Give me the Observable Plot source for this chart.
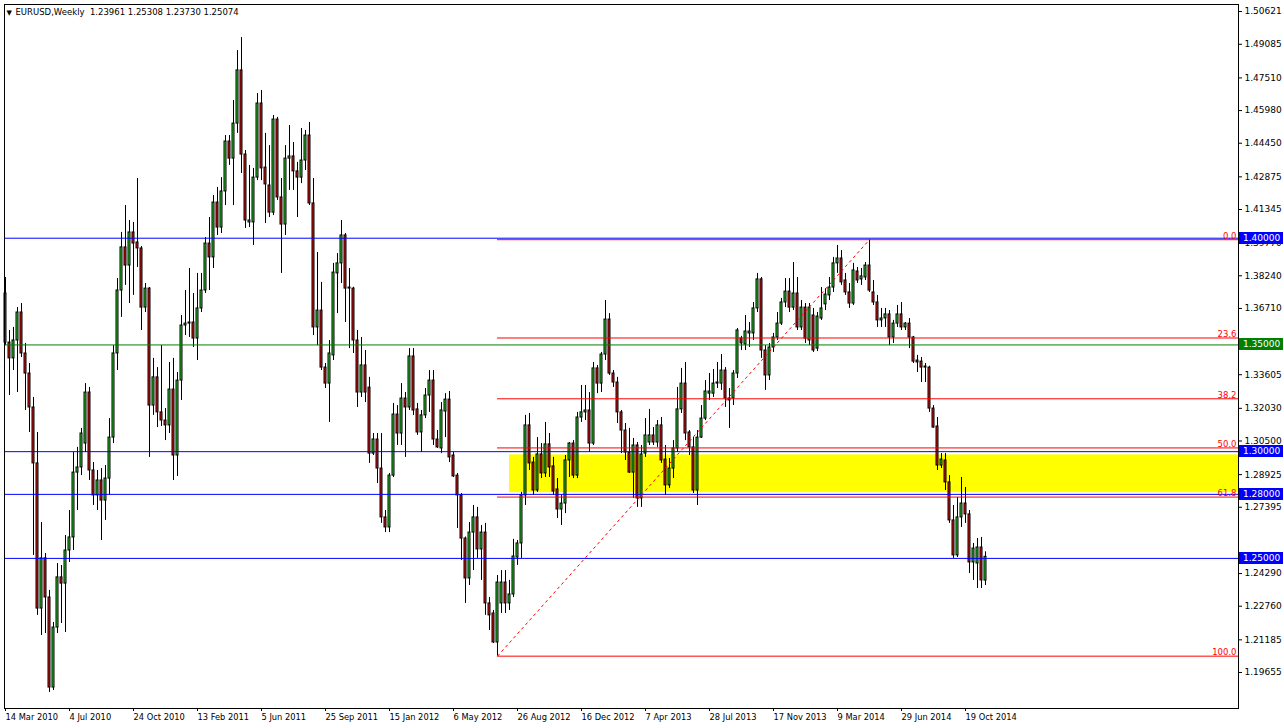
<!DOCTYPE html>
<html><head><meta charset="utf-8">
<script src="https://cdn.jsdelivr.net/npm/d3@7"></script>
<script src="https://cdn.jsdelivr.net/npm/@observablehq/plot@0.6"></script>
<style>
html,body{margin:0;padding:0;background:#fff;}
#chart svg{display:block;}
</style></head><body><div id="chart"></div>
<script>
// ---------- data ----------
const symbol = "EURUSD,Weekly";
const firstWeek = "2010-03-14";
const open = [1.3741,1.3511,1.3437,1.3521,1.3652,1.3460,1.3366,1.3207,1.2945,1.2265,1.2500,1.2317,1.1895,1.2176,1.2411,1.2382,1.2537,1.2598,1.2902,1.2926,
1.3038,1.3277,1.2912,1.2795,1.2865,1.2771,1.2874,1.3066,1.3460,1.3755,1.3957,1.3872,1.4027,1.3980,1.3952,1.3675,1.3764,1.3216,1.3348,1.3184,
1.3146,1.3123,1.3291,1.2982,1.3333,1.3591,1.3605,1.3605,1.3530,1.3671,1.3755,1.3975,1.3910,1.4167,1.4050,1.4219,1.4453,1.4373,1.4537,1.4786,
1.4392,1.4074,1.4074,1.4284,1.4631,1.4331,1.4247,1.4120,1.4556,1.4191,1.4064,1.4373,1.4383,1.4313,1.4284,1.4364,1.4481,1.4163,1.3582,1.3661,
1.3394,1.3319,1.3451,1.3835,1.3882,1.4013,1.3769,1.3764,1.3521,1.3277,1.3404,1.3300,1.2991,1.3057,1.2921,1.2692,1.2645,1.2888,1.3174,1.3085,
1.3249,1.3207,1.3446,1.3198,1.3090,1.3170,1.3263,1.3333,1.3057,1.3015,1.3188,1.3244,1.2982,1.2888,1.2795,1.2593,1.2406,1.2621,1.2692,1.2542,
1.2621,1.2289,1.2242,1.2106,1.2289,1.2387,1.2289,1.2331,1.2504,1.2570,1.2795,1.3123,1.2949,1.2818,1.2987,1.2898,1.3034,1.2931,1.2823,1.2729,
1.2757,1.2959,1.3038,1.2888,1.3160,1.3184,1.3193,1.3038,1.3390,1.3319,1.3455,1.3619,1.3366,1.3324,1.3184,1.3099,1.2996,1.2902,1.3029,1.2781,
1.2991,1.3043,1.3076,1.3043,1.3123,1.2963,1.2842,1.2921,1.3015,1.3198,1.3319,1.3090,1.3020,1.2818,1.3066,1.3155,1.3272,1.3272,1.3324,1.3319,
1.3380,1.3240,1.3249,1.3366,1.3530,1.3502,1.3554,1.3554,1.3671,1.3807,1.3474,1.3357,1.3488,1.3535,1.3600,1.3699,1.3750,1.3675,1.3741,1.3582,
1.3675,1.3521,1.3638,1.3483,1.3624,1.3690,1.3732,1.3769,1.3882,1.3905,1.3802,1.3746,1.3694,1.3844,1.3807,1.3816,1.3872,1.3746,1.3699,1.3615,
1.3624,1.3643,1.3535,1.3600,1.3643,1.3582,1.3600,1.3535,1.3427,1.3422,1.3399,1.3394,1.3202,1.3118,1.2935,1.2959,1.2856,1.2678,1.2514,1.2692,
1.2757,1.2706,1.2481,1.2476,1.2551,1.23961];
const high = [1.3816,1.3568,1.3582,1.3675,1.3694,1.3507,1.3413,1.3254,1.3090,1.2668,1.2523,1.2350,1.2200,1.2476,1.2467,1.2607,1.2724,1.2996,1.3020,1.3109,
1.3319,1.3301,1.2949,1.2912,1.2921,1.2935,1.3155,1.3497,1.3811,1.4027,1.4153,1.4083,1.4074,1.4280,1.3961,1.3788,1.3769,1.3437,1.3394,1.3497,
1.3202,1.3418,1.3437,1.3371,1.3638,1.3755,1.3858,1.3741,1.3835,1.3835,1.4003,1.4097,1.4200,1.4238,1.4284,1.4481,1.4481,1.4645,1.4879,1.4940,
1.4411,1.4341,1.4327,1.4678,1.4692,1.4491,1.4434,1.4575,1.4566,1.4280,1.4434,1.4528,1.4448,1.4355,1.4514,1.4505,1.4542,1.4280,1.3933,1.3793,
1.3413,1.3521,1.3882,1.3928,1.4083,1.4022,1.3858,1.3770,1.3568,1.3535,1.3474,1.3348,1.3085,1.3085,1.3085,1.2724,1.2898,1.3226,1.3216,1.3319,
1.3277,1.3483,1.3483,1.3226,1.3193,1.3296,1.3380,1.3380,1.3099,1.3230,1.3272,1.3282,1.2996,1.2898,1.2804,1.2600,1.2668,1.2748,1.2739,1.2654,
1.2664,1.2317,1.2256,1.2420,1.2443,1.2443,1.2397,1.2589,1.2584,1.2809,1.3170,1.3179,1.2973,1.3066,1.3038,1.3137,1.3085,1.2973,1.2874,1.2795,
1.2982,1.3043,1.3052,1.3184,1.3310,1.3310,1.3277,1.3418,1.3404,1.3465,1.3708,1.3647,1.3380,1.3348,1.3193,1.3132,1.3109,1.3062,1.3043,1.3029,
1.3155,1.3198,1.3113,1.3146,1.3160,1.3029,1.2968,1.3052,1.3301,1.3390,1.3418,1.3099,1.3066,1.3099,1.3216,1.3333,1.3366,1.3385,1.3418,1.3455,
1.3394,1.3296,1.3380,1.3577,1.3540,1.3638,1.3605,1.3699,1.3835,1.3816,1.3497,1.3507,1.3554,1.3652,1.3718,1.3811,1.3811,1.3886,1.3816,1.3708,
1.3694,1.3694,1.3671,1.3652,1.3769,1.3764,1.3816,1.3910,1.3966,1.3942,1.3835,1.3788,1.3882,1.3863,1.3858,1.3886,1.3993,1.3802,1.3732,1.3671,
1.3671,1.3661,1.3615,1.3685,1.3699,1.3605,1.3624,1.3540,1.3451,1.3441,1.3413,1.3400,1.3216,1.3160,1.2991,1.2991,1.2888,1.2748,1.2785,1.2879,
1.2832,1.2724,1.2570,1.2593,1.2598,1.25308];
const low = [1.3497,1.3263,1.3380,1.3277,1.3441,1.3193,1.3090,1.2514,1.2233,1.2139,1.2148,1.1872,1.1881,1.2148,1.2195,1.2153,1.2481,1.2537,1.2724,1.2888,
1.2996,1.2865,1.2748,1.2724,1.2584,1.2678,1.2795,1.3038,1.3380,1.3629,1.3779,1.3694,1.3732,1.3863,1.3568,1.3652,1.2973,1.3170,1.3113,1.3118,
1.3052,1.3085,1.2865,1.2884,1.3240,1.3544,1.3535,1.3488,1.3427,1.3652,1.3741,1.3755,1.3858,1.4013,1.4022,1.4153,1.4341,1.4153,1.4491,1.4303,
1.4046,1.4050,1.3966,1.4270,1.4270,1.4069,1.4097,1.4106,1.4177,1.3835,1.4013,1.4224,1.4224,1.4097,1.4256,1.4317,1.4153,1.3544,1.3497,1.3380,
1.3296,1.3137,1.3427,1.3647,1.3788,1.3605,1.3483,1.3460,1.3207,1.3254,1.3230,1.2945,1.2982,1.2851,1.2664,1.2621,1.2621,1.2879,1.3029,1.3029,
1.2973,1.3193,1.3170,1.3076,1.2996,1.3155,1.3184,1.3029,1.3015,1.2991,1.3066,1.2949,1.2879,1.2640,1.2490,1.2289,1.2373,1.2443,1.2500,1.2397,
1.2233,1.2162,1.2101,1.2042,1.2242,1.2242,1.2256,1.2317,1.2467,1.2500,1.2748,1.2912,1.2795,1.2809,1.2874,1.2879,1.2879,1.2795,1.2687,1.2654,
1.2710,1.2879,1.2874,1.2874,1.3137,1.3146,1.2996,1.3029,1.3272,1.3277,1.3427,1.3357,1.3301,1.3132,1.2991,1.2959,1.2898,1.2781,1.2739,1.2739,
1.2973,1.3029,1.3029,1.3020,1.2945,1.2795,1.2828,1.2874,1.2996,1.3179,1.3052,1.2982,1.2804,1.2748,1.3062,1.3146,1.3240,1.3254,1.3296,1.3287,
1.3207,1.3109,1.3216,1.3343,1.3474,1.3474,1.3488,1.3521,1.3652,1.3437,1.3287,1.3333,1.3465,1.3521,1.3591,1.3675,1.3652,1.3661,1.3568,1.3568,
1.3507,1.3497,1.3465,1.3469,1.3615,1.3661,1.3708,1.3746,1.3835,1.3779,1.3732,1.3671,1.3685,1.3788,1.3779,1.3802,1.3746,1.3685,1.3582,1.3582,
1.3582,1.3497,1.3507,1.3582,1.3568,1.3568,1.3483,1.3413,1.3371,1.3324,1.3324,1.3184,1.3110,1.2912,1.2921,1.2818,1.2664,1.2500,1.2504,1.2645,
1.2664,1.2429,1.2397,1.2359,1.2359,1.23730];
const close = [1.3511,1.3437,1.3521,1.3652,1.3460,1.3366,1.3207,1.2945,1.2265,1.2500,1.2317,1.1895,1.2176,1.2411,1.2382,1.2537,1.2598,1.2902,1.2926,1.3085,
1.3277,1.2912,1.2795,1.2865,1.2771,1.2874,1.3066,1.3460,1.3755,1.3957,1.3872,1.4027,1.3975,1.3952,1.3675,1.3764,1.3216,1.3348,1.3184,1.3146,
1.3123,1.3291,1.2982,1.3333,1.3591,1.3600,1.3600,1.3530,1.3671,1.3755,1.3975,1.3910,1.4167,1.4050,1.4219,1.4453,1.4373,1.4537,1.4786,1.4392,
1.4083,1.4083,1.4284,1.4631,1.4327,1.4252,1.4120,1.4556,1.4191,1.4064,1.4373,1.4383,1.4313,1.4284,1.4364,1.4481,1.4163,1.3582,1.3661,1.3394,
1.3319,1.3460,1.3839,1.3882,1.4013,1.3764,1.3764,1.3521,1.3277,1.3404,1.3277,1.2991,1.3057,1.2921,1.2692,1.2645,1.2888,1.3174,1.3085,1.3249,
1.3207,1.3446,1.3193,1.3090,1.3170,1.3263,1.3333,1.3057,1.3020,1.3193,1.3244,1.2973,1.2884,1.2795,1.2593,1.2406,1.2621,1.2692,1.2542,1.2621,
1.2289,1.2233,1.2106,1.2387,1.2387,1.2289,1.2331,1.2509,1.2570,1.2795,1.3123,1.2945,1.2818,1.2987,1.2898,1.3034,1.2926,1.2813,1.2729,1.2757,
1.2959,1.3038,1.2888,1.3160,1.3184,1.3193,1.3038,1.3390,1.3319,1.3455,1.3619,1.3366,1.3324,1.3184,1.3099,1.2996,1.2902,1.3029,1.2781,1.2987,
1.3076,1.3076,1.3043,1.3123,1.2959,1.2842,1.2921,1.3015,1.3198,1.3319,1.3085,1.3020,1.2818,1.3066,1.3155,1.3282,1.3282,1.3319,1.3319,1.3380,
1.3249,1.3249,1.3366,1.3568,1.3507,1.3563,1.3563,1.3671,1.3807,1.3474,1.3357,1.3488,1.3535,1.3600,1.3699,1.3750,1.3675,1.3741,1.3582,1.3675,
1.3530,1.3675,1.3474,1.3633,1.3671,1.3736,1.3769,1.3882,1.3905,1.3793,1.3746,1.3694,1.3849,1.3802,1.3821,1.3872,1.3755,1.3699,1.3615,1.3624,
1.3643,1.3535,1.3600,1.3643,1.3582,1.3600,1.3535,1.3422,1.3418,1.3394,1.3394,1.3202,1.3113,1.2935,1.2963,1.2856,1.2678,1.2514,1.2692,1.2757,
1.2706,1.2481,1.2546,1.2551,1.2397,1.25074];

const priceTicks = [1.50621,1.49085,1.47510,1.45980,1.44450,1.42875,1.41345,1.39770,1.38240,1.36710,1.33605,1.32030,1.30500,1.28925,1.27395,1.24290,1.22760,1.21185,1.19655];
const dateTicks = ["2010-03-14","2010-07-04","2010-10-24","2011-02-13","2011-06-05","2011-09-25","2012-01-15","2012-05-06","2012-08-26","2012-12-16","2013-04-07","2013-07-28","2013-11-17","2014-03-09","2014-06-29","2014-10-19"];

const blueLevels = [1.40, 1.30, 1.28, 1.25];
const greenLevels = [1.35];
const fibRatios = [0, 23.6, 38.2, 50.0, 61.8, 100.0];
const fibHighPrice = 1.3993, fibHighWeek = "2014-05-04";
const fibLowPrice = 1.2042, fibLowWeek = "2012-07-22";
const zoneTopPrice = 1.2985, zoneBottomPrice = 1.2808, zoneStartWeek = "2012-08-12";

// ---------- build ----------
const BULL = "#22dd22", BEAR = "#ee1111", BLUE = "#0000ff", GREEN = "#008000", RED = "#ff0000";
const parse = s => new Date(s + "T00:00:00Z");
const t0 = parse(firstWeek);
const candles = open.map((o, i) => ({
  date: d3.utcDay.offset(t0, 7 * i), open: o, high: high[i], low: low[i], close: close[i]
}));
const PX_HOURS = 42; // one pixel at 4 px per weekly bar
const xStart = d3.utcHour.offset(t0, -PX_HOURS);
const xEnd = d3.utcHour.offset(xStart, 1234 * PX_HOURS);
const fibs = fibRatios.map(r => ({r, price: fibHighPrice - (fibHighPrice - fibLowPrice) * r / 100}));
const dojis = candles.filter(d => Math.abs(d.close - d.open) < 0.0004);
const last = candles[candles.length - 1];
const header = `${symbol}  ${last.open.toFixed(5)} ${last.high.toFixed(5)} ${last.low.toFixed(5)} ${last.close.toFixed(5)}`;
const FONT = "DejaVu Sans, Liberation Sans, sans-serif";

const chart = Plot.plot({
  width: 1284, height: 728,
  marginLeft: 4, marginRight: 46, marginTop: 4, marginBottom: 20,
  style: {fontFamily: FONT, fontSize: "9px", background: "#fff", color: "#000", overflow: "visible"},
  x: {type: "utc", domain: [xStart, xEnd], axis: null},
  y: {domain: [1.17968, 1.50949], axis: null},
  marks: [
    Plot.rect([{}], {x1: parse(zoneStartWeek), x2: xEnd, y1: zoneBottomPrice, y2: zoneTopPrice, fill: "#ffff00"}),
    Plot.ruleX(candles, {x: "date", y1: "low", y2: "high", stroke: "#000", strokeWidth: 1}),
    Plot.rect(candles, {
      x1: d => d3.utcHour.offset(d.date, -PX_HOURS), x2: d => d3.utcHour.offset(d.date, PX_HOURS),
      y1: "open", y2: "close",
      fill: d => d.close >= d.open ? BULL : BEAR, stroke: "#000", strokeWidth: 1
    }),
    Plot.ruleY(dojis, {y: "close", x1: d => d3.utcHour.offset(d.date, -PX_HOURS), x2: d => d3.utcHour.offset(d.date, PX_HOURS), stroke: "#000"}),
    Plot.ruleY(blueLevels, {stroke: BLUE}),
    Plot.ruleY(greenLevels, {stroke: GREEN}),
    Plot.ruleY(fibs, {y: "price", x1: parse(fibLowWeek), x2: xEnd, stroke: RED}),
    Plot.link([{}], {x1: parse(fibLowWeek), y1: fibLowPrice, x2: parse(fibHighWeek), y2: fibHighPrice, stroke: RED, strokeDasharray: "3,3"}),
    Plot.text(fibs, {y: "price", text: d => d.r.toFixed(1), frameAnchor: "right", textAnchor: "end", lineAnchor: "bottom", dx: -2, dy: -1, fill: RED, fontSize: 8.5}),
    Plot.frame({stroke: "#000"}),
    Plot.axisX(dateTicks.map(parse), {anchor: "bottom", tickFormat: d3.utcFormat("%-d %b %Y"), textAnchor: "start", tickSize: 3, tickPadding: 3, fontSize: 8.3}),
    Plot.axisY(priceTicks, {anchor: "right", tickFormat: d => d.toFixed(5), tickSize: 3, tickPadding: 3, fontSize: 9}),
    Plot.text([header], {frameAnchor: "top-left", dx: 11, dy: 4, lineAnchor: "top", textAnchor: "start", fontSize: 8.5}),
    Plot.text(["▼"], {frameAnchor: "top-left", dx: 2, dy: 6, lineAnchor: "top", textAnchor: "start", fontSize: 7})
  ]
});

// highlighted price labels for the horizontal lines, placed through the plot's y scale
const yScale = chart.scale("y");
const svg = d3.select(chart);
const boxes = [...blueLevels.map(p => ({p, c: BLUE})), ...greenLevels.map(p => ({p, c: GREEN}))];
const g = svg.append("g").attr("font-family", FONT).attr("font-size", 9).attr("text-anchor", "start");
for (const b of boxes) {
  const y = Math.round(yScale.apply(b.p));
  g.append("rect").attr("x", 1239).attr("y", y - 6).attr("width", 44).attr("height", 12).attr("fill", b.c);
  g.append("text").attr("x", 1243).attr("y", y).attr("dy", "0.35em").attr("text-anchor", "start").attr("fill", "#fff").text(b.p.toFixed(5));
}
document.getElementById("chart").append(chart);
</script>
</body></html>
